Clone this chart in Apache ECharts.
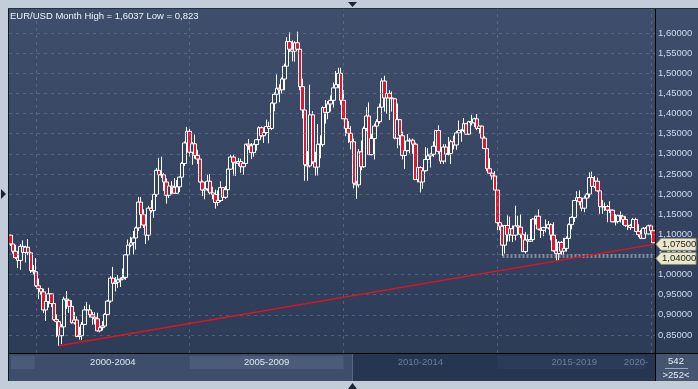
<!DOCTYPE html>
<html><head><meta charset="utf-8">
<script src="https://cdn.jsdelivr.net/npm/echarts@6/dist/echarts.min.js"></script>
<style>html,body{margin:0;padding:0;background:#c3ccd9;overflow:hidden}#c{width:698px;height:389px}</style>
</head><body><div id="c"></div>
<script>
// ---- data: EUR/USD monthly, Mar 1999 .. Feb 2020 ----
const startYear = 1999, startMonth = 3, barCount = 252;
const openPrices = [
 1.0980,1.0760,1.0580,1.0420,1.0350,1.0700,1.0550,1.0680,1.0540,1.0100,
 1.0070,0.9720,0.9650,0.9570,0.9120,0.9330,0.9520,0.9280,0.8880,0.8830,0.8480,0.8700,
 0.9390,0.9360,0.9210,0.8800,0.8870,0.8460,0.8480,0.8760,0.9120,0.9120,0.9000,0.8940,
 0.8900,0.8600,0.8680,0.8720,0.9010,0.9340,0.9910,0.9780,0.9810,0.9870,0.9890,0.9930,
 1.0490,1.0730,1.0790,1.0910,1.1160,1.1800,1.1490,1.1230,1.0980,1.1650,1.1590,1.1990,
 1.2590,1.2480,1.2480,1.2300,1.1970,1.2200,1.2170,1.2020,1.2180,1.2420,1.2760,1.3270,
 1.3560,1.3040,1.3250,1.2960,1.2870,1.2300,1.2100,1.2130,1.2320,1.2030,1.1990,1.1790,
 1.1840,1.2160,1.1920,1.2110,1.2620,1.2920,1.2790,1.2770,1.2810,1.2680,1.2760,1.3240,
 1.3200,1.3030,1.3230,1.3350,1.3650,1.3450,1.3530,1.3680,1.3630,1.4260,1.4480,1.4630,
 1.4590,1.4860,1.5180,1.5790,1.5600,1.5550,1.5760,1.5600,1.4670,1.4090,1.2730,1.2700,
 1.3970,1.2800,1.2670,1.3240,1.3230,1.4150,1.4030,1.4240,1.4330,1.4640,1.4720,1.5000,
 1.4330,1.3870,1.3630,1.3510,1.3300,1.2270,1.2230,1.3050,1.2680,1.3630,1.3940,1.2980,
 1.3380,1.3690,1.3800,1.4160,1.4810,1.4390,1.4500,1.4390,1.4370,1.3390,1.3850,1.3450,
 1.2960,1.3080,1.3320,1.3340,1.3240,1.2360,1.2660,1.2300,1.2580,1.2860,1.2950,1.2990,
 1.3190,1.3580,1.3060,1.2820,1.3170,1.2990,1.3010,1.3300,1.3220,1.3520,1.3580,1.3590,
 1.3750,1.3490,1.3800,1.3770,1.3870,1.3630,1.3690,1.3390,1.3130,1.2630,1.2520,1.2450,
 1.2100,1.1290,1.1200,1.0730,1.1220,1.0990,1.1140,1.0980,1.1210,1.1180,1.1000,1.0570,
 1.0860,1.0830,1.0870,1.1380,1.1450,1.1130,1.1100,1.1170,1.1160,1.1240,1.0980,1.0590,
 1.0520,1.0800,1.0580,1.0650,1.0900,1.1240,1.1420,1.1840,1.1910,1.1810,1.1650,1.1900,
 1.2000,1.2410,1.2190,1.2320,1.2080,1.1690,1.1680,1.1690,1.1600,1.1600,1.1310,1.1320,
 1.1470,1.1450,1.1370,1.1220,1.1220,1.1170,1.1370,1.1070,1.0990,1.0900,1.1150,1.1010,
 1.1210,1.1090
];
const highPrices = [
 1.1000,1.0860,1.0740,1.0530,1.0760,1.0850,1.0720,1.0880,1.0570,1.0240,
 1.0410,0.9900,0.9700,0.9650,0.9360,0.9670,0.9530,0.9390,0.9010,0.8850,0.8770,0.9450,
 0.9590,0.9390,0.9360,0.9070,0.8960,0.8700,0.8820,0.9220,0.9320,0.9250,0.9070,0.9060,
 0.9050,0.8800,0.8840,0.9040,0.9370,0.9960,1.0190,0.9940,0.9990,0.9930,1.0150,1.0500,
 1.0870,1.0940,1.1080,1.1190,1.1930,1.1930,1.1620,1.1450,1.1710,1.1850,1.2010,1.2650,
 1.2900,1.2930,1.2520,1.2390,1.2300,1.2320,1.2400,1.2350,1.2440,1.2800,1.3310,1.3670,
 1.3620,1.3290,1.3480,1.3100,1.2940,1.2340,1.2280,1.2480,1.2500,1.2180,1.2110,1.2090,
 1.2320,1.2160,1.2200,1.2630,1.2980,1.2980,1.2860,1.2900,1.2880,1.2790,1.3250,1.3370,
 1.3270,1.3260,1.3370,1.3680,1.3680,1.3550,1.3850,1.3800,1.4280,1.4530,1.4970,1.4730,
 1.4900,1.5240,1.5900,1.6020,1.5820,1.5800,1.6037,1.5610,1.4870,1.4150,1.3070,1.4720,
 1.4060,1.3050,1.3740,1.3460,1.4180,1.4340,1.4310,1.4450,1.4770,1.5060,1.5140,1.5140,
 1.4580,1.3990,1.3810,1.3690,1.3380,1.2330,1.3120,1.3330,1.3680,1.4160,1.4280,1.3500,
 1.3750,1.3860,1.4250,1.4880,1.4940,1.4700,1.4580,1.4550,1.4390,1.4250,1.3870,1.3550,
 1.3240,1.3490,1.3390,1.3380,1.3280,1.2750,1.2690,1.2640,1.3170,1.3140,1.3010,1.3310,
 1.3590,1.3710,1.3170,1.3240,1.3240,1.3420,1.3350,1.3450,1.3570,1.3830,1.3610,1.3890,
 1.3770,1.3820,1.3970,1.3900,1.3990,1.3700,1.3700,1.3440,1.3180,1.2890,1.2600,1.2570,
 1.2100,1.1530,1.1240,1.1220,1.1470,1.1440,1.1220,1.1710,1.1460,1.1500,1.1080,1.1060,
 1.1000,1.1380,1.1400,1.1460,1.1620,1.1430,1.1190,1.1370,1.1330,1.1270,1.1300,1.0880,
 1.0830,1.0830,1.0910,1.0950,1.1270,1.1450,1.1850,1.2070,1.2090,1.1880,1.1960,1.2020,
 1.2540,1.2560,1.2450,1.2410,1.2100,1.1850,1.1790,1.1730,1.1820,1.1620,1.1500,1.1490,
 1.1570,1.1490,1.1450,1.1320,1.1260,1.1410,1.1410,1.1250,1.1110,1.1180,1.1180,1.1240,
 1.1240,1.1100
];
const lowPrices = [
 1.0710,1.0520,1.0390,1.0160,1.0120,1.0410,1.0300,1.0480,1.0040,1.0000,
 0.9690,0.9390,0.9500,0.9040,0.8850,0.9180,0.9190,0.8850,0.8440,0.8228,0.8270,0.8650,
 0.9140,0.9050,0.8780,0.8760,0.8440,0.8380,0.8370,0.8740,0.8960,0.8930,0.8750,0.8760,
 0.8580,0.8560,0.8610,0.8700,0.8990,0.9300,0.9680,0.9580,0.9670,0.9690,0.9860,0.9870,
 1.0340,1.0680,1.0500,1.0620,1.1080,1.1410,1.1160,1.0760,1.0850,1.1540,1.1410,1.1930,
 1.2350,1.2400,1.2080,1.1760,1.1900,1.1990,1.2000,1.2020,1.2050,1.2260,1.2700,1.3220,
 1.2930,1.2730,1.2880,1.2750,1.2290,1.1950,1.1870,1.2070,1.1990,1.1870,1.1640,1.1710,
 1.1800,1.1830,1.1880,1.2060,1.2600,1.2460,1.2450,1.2700,1.2530,1.2480,1.2750,1.3100,
 1.2870,1.2930,1.3080,1.3290,1.3410,1.3270,1.3500,1.3260,1.3590,1.4060,1.4420,1.4280,
 1.4500,1.4580,1.5170,1.5530,1.5300,1.5290,1.5590,1.4580,1.3880,1.2330,1.2330,1.2660,
 1.2750,1.2460,1.2460,1.2890,1.3180,1.3750,1.3860,1.4050,1.4150,1.4480,1.4630,1.4220,
 1.3860,1.3440,1.3270,1.3110,1.2140,1.1880,1.2160,1.2590,1.2650,1.3560,1.2970,1.2960,
 1.2860,1.3440,1.3750,1.4100,1.4050,1.4000,1.3840,1.4050,1.3360,1.3140,1.3210,1.2860,
 1.2620,1.3060,1.3010,1.3000,1.2360,1.2290,1.2040,1.2130,1.2560,1.2800,1.2660,1.2920,
 1.3000,1.3000,1.2750,1.2750,1.2790,1.2960,1.2750,1.3110,1.3100,1.3480,1.3300,1.3540,
 1.3480,1.3470,1.3710,1.3670,1.3590,1.3500,1.3390,1.3130,1.2570,1.2500,1.2360,1.2100,
 1.1100,1.1100,1.0460,1.0520,1.0820,1.0820,1.0810,1.0850,1.1090,1.0900,1.0560,1.0520,
 1.0710,1.0810,1.0820,1.1240,1.1100,1.0910,1.0950,1.1050,1.1120,1.0850,1.0570,1.0340,
 1.0340,1.0490,1.0490,1.0570,1.0840,1.1120,1.1310,1.1660,1.1720,1.1570,1.1550,1.1720,
 1.1920,1.2160,1.2150,1.2060,1.1510,1.1510,1.1580,1.1300,1.1530,1.1300,1.1220,1.1270,
 1.1290,1.1230,1.1180,1.1110,1.1110,1.1160,1.1070,1.0930,1.0880,1.0880,1.0980,1.0980,
 1.0990,1.0780
];
const closePrices = [
 1.0760,1.0580,1.0420,1.0350,1.0700,1.0550,1.0680,1.0540,1.0100,1.0070,
 0.9720,0.9650,0.9570,0.9120,0.9330,0.9520,0.9280,0.8880,0.8830,0.8480,0.8700,0.9390,
 0.9360,0.9210,0.8800,0.8870,0.8460,0.8480,0.8760,0.9120,0.9120,0.9000,0.8940,0.8900,
 0.8600,0.8680,0.8720,0.9010,0.9340,0.9910,0.9780,0.9810,0.9870,0.9890,0.9930,1.0490,
 1.0730,1.0790,1.0910,1.1160,1.1800,1.1490,1.1230,1.0980,1.1650,1.1590,1.1990,1.2590,
 1.2480,1.2480,1.2300,1.1970,1.2200,1.2170,1.2020,1.2180,1.2420,1.2760,1.3270,1.3560,
 1.3040,1.3250,1.2960,1.2870,1.2300,1.2100,1.2130,1.2320,1.2030,1.1990,1.1790,1.1840,
 1.2160,1.1920,1.2110,1.2620,1.2920,1.2790,1.2770,1.2810,1.2680,1.2760,1.3240,1.3200,
 1.3030,1.3230,1.3350,1.3650,1.3450,1.3530,1.3680,1.3630,1.4260,1.4480,1.4630,1.4590,
 1.4860,1.5180,1.5790,1.5600,1.5550,1.5760,1.5600,1.4670,1.4090,1.2730,1.2700,1.3970,
 1.2800,1.2670,1.3240,1.3230,1.4150,1.4030,1.4240,1.4330,1.4640,1.4720,1.5000,1.4330,
 1.3870,1.3630,1.3510,1.3300,1.2270,1.2230,1.3050,1.2680,1.3630,1.3940,1.2980,1.3380,
 1.3690,1.3800,1.4160,1.4810,1.4390,1.4500,1.4390,1.4370,1.3390,1.3850,1.3450,1.2960,
 1.3080,1.3320,1.3340,1.3240,1.2360,1.2660,1.2300,1.2580,1.2860,1.2950,1.2990,1.3190,
 1.3580,1.3060,1.2820,1.3170,1.2990,1.3010,1.3300,1.3220,1.3520,1.3580,1.3590,1.3750,
 1.3490,1.3800,1.3770,1.3870,1.3630,1.3690,1.3390,1.3130,1.2630,1.2520,1.2450,1.2100,
 1.1290,1.1200,1.0730,1.1220,1.0990,1.1140,1.0980,1.1210,1.1180,1.1000,1.0570,1.0860,
 1.0830,1.0870,1.1380,1.1450,1.1130,1.1100,1.1170,1.1160,1.1240,1.0980,1.0590,1.0520,
 1.0800,1.0580,1.0650,1.0900,1.1240,1.1420,1.1840,1.1910,1.1810,1.1650,1.1900,1.2000,
 1.2410,1.2190,1.2320,1.2080,1.1690,1.1680,1.1690,1.1600,1.1600,1.1310,1.1320,1.1470,
 1.1450,1.1370,1.1220,1.1220,1.1170,1.1370,1.1070,1.0990,1.0900,1.1150,1.1010,1.1210,
 1.1090,1.0790
];
const yTicks = [0.85,0.90,0.95,1.00,1.05,1.10,1.15,1.20,1.25,1.30,1.35,1.40,1.45,1.50,1.55,1.60];
const periodStarts = ['2000-01','2005-01','2010-01','2015-01','2020-01'];
const periodLabels = ['2000-2004','2005-2009','2010-2014','2015-2019','2020-'];
const trendStart = ['2000-10', 0.8228];
const trendEnd = ['2020-02', 1.075];
const supportStart = '2015-03', supportLevel = 1.046;
const tagValues = [1.075, 1.04];
const titleText = 'EUR/USD Month High = 1,6037 Low = 0,823';
const statTop = '542', statBottom = '>252<';

// ---- build ----
const categories = [];
for (let i = 0; i < barCount; i++) {
  const m = startMonth - 1 + i;
  const y = startYear + Math.floor(m / 12);
  const mm = (m % 12) + 1;
  categories.push(y + '-' + (mm < 10 ? '0' + mm : mm));
}
const ohlc = categories.map((c, i) => [openPrices[i], closePrices[i], lowPrices[i], highPrices[i]]);
const fmt = v => v.toFixed(5).replace('.', ',');
const FONT = '"Liberation Sans", Arial, sans-serif';

const gridDash = {color: 'rgba(110,130,162,0.5)', type: [3, 4], width: 1};
const markData = [];
yTicks.forEach(v => markData.push({yAxis: v, lineStyle: gridDash}));
periodStarts.forEach(c => markData.push({xAxis: c, lineStyle: gridDash}));
markData.push([{coord: [supportStart, supportLevel], lineStyle: {color: 'rgba(190,196,205,0.55)', width: 4, type: [2, 2]}},
               {coord: [categories[categories.length - 1], supportLevel]}]);
markData.push([{coord: trendStart, lineStyle: {color: '#e4121e', width: 1.5, type: 'solid'}},
               {coord: trendEnd}]);

const chart = echarts.init(document.getElementById('c'), null, {renderer: 'canvas'});
chart.setOption({
  backgroundColor: '#c3ccd9',
  animation: false,
  grid: {left: 9, right: 43, top: 9, bottom: 36, containLabel: false},
  xAxis: {
    type: 'category', data: categories, boundaryGap: true,
    axisLine: {show: false}, axisTick: {show: false}, axisLabel: {show: false}, splitLine: {show: false}
  },
  yAxis: {
    type: 'value', position: 'right', min: 0.805, max: 1.66, scale: true,
    axisLine: {show: false}, axisTick: {show: false}, splitLine: {show: false},
    axisLabel: {customValues: yTicks, formatter: v => fmt(v), color: '#cddaf0', fontSize: 9.5, fontFamily: FONT, margin: 3}
  },
  series: [{
    type: 'candlestick', data: ohlc, barWidth: 4,
    itemStyle: {color: '#34435f', color0: '#e4142c', borderColor: '#ffffff', borderColor0: '#ffffff', borderWidth: 1},
    markLine: {silent: true, symbol: ['none', 'none'], label: {show: false}, animation: false, data: markData}
  }]
});

function drawDecor() {
  const px = c => chart.convertToPixel({xAxisIndex: 0}, c);
  const py = v => chart.convertToPixel({yAxisIndex: 0}, v);
  const band = px(categories[1]) - px(categories[0]);
  const edge = c => px(c) - band / 2;
  const g = [];
  // panel background
  g.push({type: 'rect', z: -10, shape: {x: 8, y: 8, width: 690, height: 373},
    style: {fill: new echarts.graphic.LinearGradient(0, 0, 0, 1, [{offset: 0, color: '#3f4e6b'}, {offset: 1, color: '#2b3a55'}])}});
  // bottom bar
  g.push({type: 'rect', z: 50, shape: {x: 9, y: 354, width: 646, height: 27}, style: {fill: '#3e4d69'}});
  g.push({type: 'rect', z: 51, shape: {x: 11, y: 356, width: edge(periodStarts[0]) - 11, height: 13}, style: {fill: '#4b5a76'}});
  g.push({type: 'rect', z: 51, shape: {x: px(periodStarts[1]), y: 356, width: px(periodStarts[2]) - px(periodStarts[1]), height: 13}, style: {fill: '#4c5b78'}});
  g.push({type: 'rect', z: 52, shape: {x: 352, y: 354, width: 303, height: 27}, style: {fill: '#263550'}});
  g.push({type: 'rect', z: 53, shape: {x: px(periodStarts[3]), y: 356, width: px(periodStarts[4]) - px(periodStarts[3]) - 6, height: 13}, style: {fill: '#2c3c58'}});
  g.push({type: 'line', z: 54, shape: {x1: 352.5, y1: 354, x2: 352.5, y2: 381}, style: {stroke: '#5a667c', lineWidth: 1}});
  for (let i = 0; i < periodLabels.length; i++) {
    const x0 = px(periodStarts[i]);
    const x1 = i < periodStarts.length - 1 ? px(periodStarts[i + 1]) : null;
    const cx = x1 !== null ? (x0 + x1) / 2 : 636;
    g.push({type: 'text', z: 60, style: {text: periodLabels[i], x: cx, y: 362, align: 'center', verticalAlign: 'middle',
      fill: i < 2 ? '#dde6f3' : '#6e7e9a', font: '9.5px ' + FONT}});
  }
  // frame lines
  g.push({type: 'line', z: 70, shape: {x1: 9, y1: 353.5, x2: 698, y2: 353.5}, style: {stroke: '#000', lineWidth: 1}});
  g.push({type: 'line', z: 70, shape: {x1: 655.5, y1: 8, x2: 655.5, y2: 381}, style: {stroke: '#000', lineWidth: 1}});
  g.push({type: 'line', z: 70, shape: {x1: 8.5, y1: 8, x2: 8.5, y2: 381}, style: {stroke: '#111822', lineWidth: 1}});
  g.push({type: 'line', z: 70, shape: {x1: 8, y1: 8.5, x2: 698, y2: 8.5}, style: {stroke: '#26303f', lineWidth: 1}});
  // stats box
  g.push({type: 'rect', z: 55, shape: {x: 656, y: 354, width: 42, height: 27}, style: {fill: '#46556f'}});
  g.push({type: 'text', z: 60, style: {text: statTop, x: 676, y: 361, align: 'center', verticalAlign: 'middle', fill: '#e6edf7', font: '9.5px ' + FONT}});
  g.push({type: 'line', z: 60, shape: {x1: 665, y1: 368.5, x2: 688, y2: 368.5}, style: {stroke: '#9aa6ba', lineWidth: 1}});
  g.push({type: 'text', z: 60, style: {text: statBottom, x: 676, y: 375, align: 'center', verticalAlign: 'middle', fill: '#e6edf7', font: '9.5px ' + FONT}});
  // price tags
  tagValues.forEach(v => {
    const y = py(v);
    g.push({type: 'polygon', z: 80, shape: {points: [[656, y], [661, y - 6], [696, y - 6], [696, y + 6], [661, y + 6]]},
      style: {fill: '#ebe7cb', stroke: '#8b8a78', lineWidth: 1}});
    g.push({type: 'text', z: 81, style: {text: fmt(v), x: 662, y: y, align: 'left', verticalAlign: 'middle', fill: '#1b1b1b', font: '9.5px ' + FONT}});
  });
  // title
  g.push({type: 'text', z: 90, style: {text: titleText, x: 10, y: 16, align: 'left', verticalAlign: 'middle', fill: '#eef2f8', font: '9.5px ' + FONT}});
  // UI triangles
  g.push({type: 'polygon', z: 90, shape: {points: [[348, 2], [357, 2], [352.5, 7]]}, style: {fill: '#1b2435'}});
  g.push({type: 'polygon', z: 90, shape: {points: [[1, 189], [1, 199], [6, 194]]}, style: {fill: '#1b2435'}});
  g.push({type: 'polygon', z: 90, shape: {points: [[348, 389], [357, 389], [352.5, 383]]}, style: {fill: '#1b2435'}});
  chart.setOption({graphic: {elements: g}});
}
drawDecor();
</script>
</body></html>
